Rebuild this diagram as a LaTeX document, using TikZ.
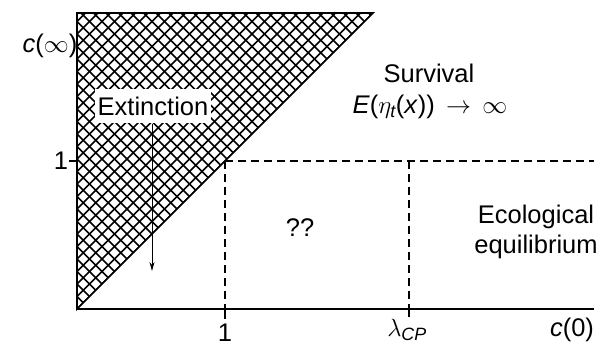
\documentclass[tikz,border=0pt]{standalone}
\usepackage{amsmath}
\usepackage{fontspec}
\setmainfont{Liberation Sans}
\usetikzlibrary{arrows.meta}
\begin{document}
\begin{tikzpicture}[x=1pt,y=-1pt,
  lbl/.style={font=\fontsize{25.5}{30}\selectfont, inner sep=0pt},
  axis/.style={line width=1.7pt},
  hatch/.style={line width=1.5pt},
  dline/.style={line width=1.3pt, dash pattern=on 8pt off 5pt},
  tick/.style={line width=1.3pt},
  arr/.style={line width=0.9pt, -{Stealth[length=9pt,width=5pt]}}]
\useasboundingbox (0,0) rectangle (604,349);
% key points
\coordinate (O) at (77,309);
\coordinate (T) at (77,13);
\coordinate (H) at (373,13);
\coordinate (X) at (594,309);
\coordinate (P) at (225,161);
\coordinate (PR) at (594,161);
\coordinate (A1) at (225,309);
\coordinate (A1t) at (225,319);
\coordinate (L) at (409,161);
\coordinate (Lb) at (409,309);
\coordinate (Lt) at (409,317);
\coordinate (Y1) at (77,161);
\coordinate (Y1t) at (69,161);
% hatched triangle
\begin{scope}
  \clip (O) -- (T) -- (H) -- cycle;
  \foreach \k in {0,...,27}{
    \pgfmathsetmacro{\c}{386-12.5*\k}
    \draw[hatch] (\c-400,400) -- (\c,0);
  }
  \foreach \m in {0,...,50}{
    \pgfmathsetmacro{\d}{-232+12.5*\m}
    \draw[hatch] (\d,0) -- (\d+400,400);
  }
\end{scope}
\draw[axis, line join=miter] (O) -- (T) -- (H) -- cycle;
\draw[axis] (O) -- (X);
% dashed lines and ticks
\draw[dline] (P) -- (PR);
\draw[dline] (P) -- (A1);
\draw[dline] (L) -- (Lb);
\draw[tick] (A1) -- (A1t);
\draw[tick] (Lb) -- (Lt);
\draw[tick] (Y1) -- (Y1t);
% labels
\node[lbl] (cinf) at (50,46) {\textit{c}($\infty$)};
\node[lbl] (one1) at (61,161) {1};
\node[lbl] (one2) at (225,333) {1};
\node[lbl] (lam) at (407,330) {$\lambda_{\textit{CP}}$};
\node[lbl] (c0) at (572,330) {\textit{c}(0)};
\node[lbl] (surv) at (429,73) {Survival};
\node[lbl] (expr) at (430,107) {\textit{E}($\eta_{\textit{t}}$(\textit{x}))\ \,$\rightarrow$\ \,$\infty$};
\node[lbl] (qq) at (300,228) {??};
\node[lbl, align=center] (eco) at (536,232) {Ecological\\equilibrium};
\node[lbl, fill=white, inner xsep=3pt, minimum height=34pt] (ext) at (153,106) {Extinction};
\coordinate (arrend) at (152,271);
\draw[arr] (152,124) -- (arrend);
\end{tikzpicture}
\end{document}
